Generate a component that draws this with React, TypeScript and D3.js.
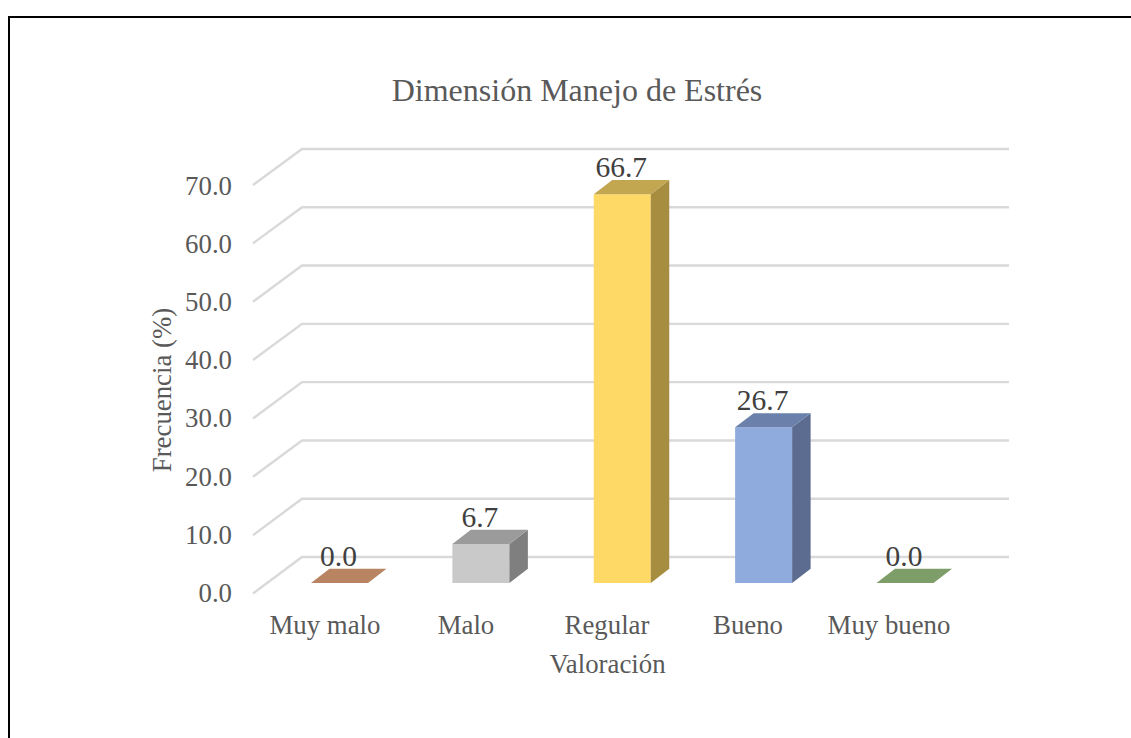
import React from "react";
import * as d3 from "d3";

const title = "Dimensión Manejo de Estrés";
const yTitle = "Frecuencia (%)";
const xTitle = "Valoración";
const categories = ["Muy malo", "Malo", "Regular", "Bueno", "Muy bueno"];
const values = [0.0, 6.7, 66.7, 26.7, 0.0];
const tickValues = [0, 10, 20, 30, 40, 50, 60, 70];
const frontColors = ["#c9835b", "#c9c9c9", "#ffd966", "#8faadc", "#8fb573"];
const topColors = ["#b98462", "#9b9b9b", "#c2a650", "#6b80ab", "#7d9e68"];
const sideColors = ["#8a5a3c", "#7f7f7f", "#a68d3f", "#5b6c90", "#5f7f4a"];

const W = 1131;
const H = 738;
const font = "'Liberation Serif', 'Times New Roman', serif";
const depthX = 18.5;
const depthY = 14.2;

export default function App() {
  const backY = d3.scaleLinear().domain([0, 70]).range([557, 149]);
  const frontY = d3.scaleLinear().domain([0, 70]).range([583, 174.9]);
  const wallY = d3.scaleLinear().domain([0, 70]).range([593.5, 185]);
  const tickLabelY = d3.scaleLinear().domain([0, 70]).range([602, 194.5]);
  const xCenter = d3.scalePoint().domain(categories).range([339.5, 905]);
  const xLabel = d3.scalePoint().domain(categories).range([325, 889]);
  const barW = 57;
  const line = d3.line();

  return (
    <svg width={W} height={H} style={{ position: "absolute", left: 0, top: 0, background: "#fff" }}>
      <path d="M9 738V17H1131" fill="none" stroke="#000" strokeWidth={2} />
      <text x={577} y={101} textAnchor="middle" fontFamily={font} fontSize={32} fill="#595959">{title}</text>

      {tickValues.map((t) => (
        <g key={t}>
          <path
            d={line([[253, wallY(t)], [302, backY(t)], [1009, backY(t)]]) as string}
            fill="none"
            stroke="#d9d9d9"
            strokeWidth={2.4}
          />
          <text x={232} y={tickLabelY(t)} textAnchor="end" fontFamily={font} fontSize={26.8} fill="#595959">
            {t.toFixed(1)}
          </text>
        </g>
      ))}

      <text
        transform="translate(171,390) rotate(-90)"
        textAnchor="middle"
        fontFamily={font}
        fontSize={26.8}
        fill="#595959"
      >
        {yTitle}
      </text>

      {categories.map((c, i) => {
        const v = values[i];
        const cx = xCenter(c) as number;
        const x0 = cx - barW / 2;
        const x1 = cx + barW / 2;
        const yb = frontY(0);
        const yt = frontY(v);
        const quad = (p: [number, number][]) => (line(p) as string) + "Z";
        return (
          <g key={c}>
            {v > 0 && <path d={quad([[x0, yb], [x1, yb], [x1, yt], [x0, yt]])} fill={frontColors[i]} />}
            {v > 0 && (
              <path
                d={quad([[x1, yb], [x1 + depthX, yb - depthY], [x1 + depthX, yt - depthY], [x1, yt]])}
                fill={sideColors[i]}
              />
            )}
            <path
              d={quad([[x0, yt], [x1, yt], [x1 + depthX, yt - depthY], [x0 + depthX, yt - depthY]])}
              fill={topColors[i]}
            />
            <text
              x={cx - 1}
              y={yt - depthY - 3}
              textAnchor="middle"
              fontFamily={font}
              fontSize={29.5}
              fill="#404040"
            >
              {v.toFixed(1)}
            </text>
            <text x={xLabel(c) as number} y={634} textAnchor="middle" fontFamily={font} fontSize={26.8} fill="#595959">
              {c}
            </text>
          </g>
        );
      })}

      <text x={607.5} y={673} textAnchor="middle" fontFamily={font} fontSize={26.8} fill="#595959">{xTitle}</text>
    </svg>
  );
}
